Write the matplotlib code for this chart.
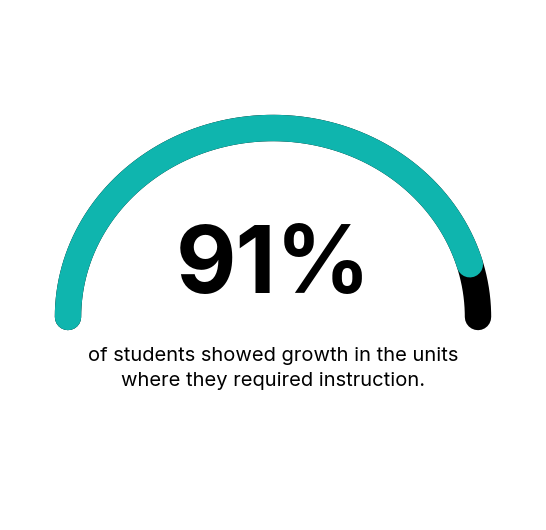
import numpy as np
from matplotlib import pyplot as plt

# gauge data
pct_value = 91
pct_label = '91%'
caption = ['of students showed growth in the units',
           'where they required instruction.']

TEAL = '#0fb5ae'
BLACK = '#000000'

fig = plt.figure(figsize=(5.46, 5.30), dpi=100)
ax = fig.add_axes([0, 0, 1, 1])
ax.set_xlim(0, 546)
ax.set_ylim(530, 0)
ax.axis('off')

cx, cy, rx, ry = 273, 317, 205, 189
lw = 19

# full background arc in black, then value arc in teal
th = np.linspace(np.pi, 0, 300)
ax.plot(cx + rx * np.cos(th), cy - ry * np.sin(th), color=BLACK, lw=lw,
        solid_capstyle='round')
th_v = np.linspace(np.pi, np.pi * (1 - pct_value / 100), 300)
ax.plot(cx + rx * np.cos(th_v), cy - ry * np.sin(th_v), color=TEAL, lw=lw,
        solid_capstyle='round')

ax.text(cx, 268, pct_label, ha='center', va='center', fontsize=67,
        fontweight='bold', family='Inter', color=BLACK)
for i, line in enumerate(caption):
    ax.text(cx, 356 + i * 25, line, ha='center', va='center', fontsize=14.5,
            family='Inter', color=BLACK)

fig.savefig('out.png', dpi=100, facecolor='white')
